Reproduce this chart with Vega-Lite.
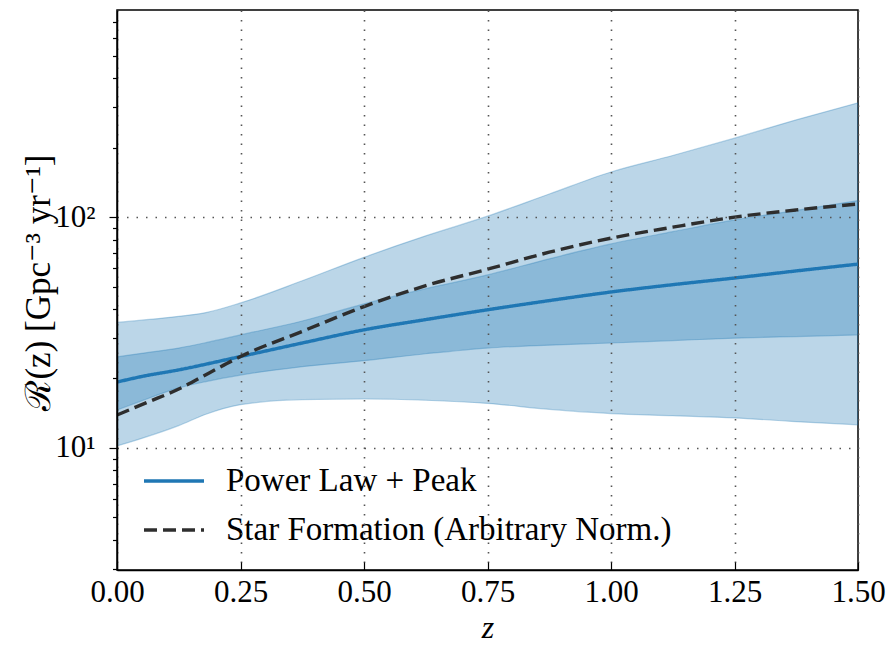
{
  "$schema": "https://vega.github.io/schema/vega-lite/v6.json",
  "width": 741,
  "height": 560,
  "autosize": "none",
  "padding": {"left": 117, "top": 10, "right": 31, "bottom": 76},
  "background": "white",
  "config": {
    "view": {"stroke": "black", "strokeWidth": 1.5},
    "font": "Liberation Serif, DejaVu Serif, serif",
    "axis": {
      "labelFont": "Liberation Serif, DejaVu Serif, serif",
      "titleFont": "Liberation Serif, DejaVu Serif, serif",
      "labelColor": "black",
      "titleColor": "black",
      "titleFontWeight": "normal",
      "domainColor": "black",
      "domainWidth": 1.5,
      "tickColor": "black",
      "tickWidth": 1.2,
      "gridColor": "#555555",
      "gridDash": [1.5, 8],
      "gridWidth": 1.6,
      "labelFlush": false,
      "labelOverlap": false
    },
    "legend": {"labelFont": "Liberation Serif, DejaVu Serif, serif"}
  },
  "datasets": {
    "bands": [
      {"z": 0.0, "lo90": 10.2, "lo50": 14.6, "hi50": 24.8, "hi90": 35.0},
      {"z": 0.05, "lo90": 11.0, "lo50": 16.0, "hi50": 25.7, "hi90": 35.8},
      {"z": 0.125, "lo90": 12.5, "lo50": 18.2, "hi50": 27.1, "hi90": 37.2},
      {"z": 0.18, "lo90": 14.0, "lo50": 19.4, "hi50": 28.6, "hi90": 38.6},
      {"z": 0.25, "lo90": 15.4, "lo50": 20.7, "hi50": 30.9, "hi90": 42.5},
      {"z": 0.375, "lo90": 16.2, "lo50": 22.5, "hi50": 35.5, "hi90": 53.0},
      {"z": 0.5, "lo90": 16.3, "lo50": 23.9, "hi50": 42.1, "hi90": 67.0},
      {"z": 0.625, "lo90": 16.1, "lo50": 25.6, "hi50": 49.0, "hi90": 83.0},
      {"z": 0.75, "lo90": 15.6, "lo50": 27.1, "hi50": 56.2, "hi90": 101.0},
      {"z": 0.875, "lo90": 14.7, "lo50": 27.9, "hi50": 66.0, "hi90": 126.0},
      {"z": 1.0, "lo90": 14.1, "lo50": 28.5, "hi50": 76.6, "hi90": 157.0},
      {"z": 1.125, "lo90": 13.8, "lo50": 29.2, "hi50": 86.5, "hi90": 185.0},
      {"z": 1.25, "lo90": 13.5, "lo50": 29.9, "hi50": 97.3, "hi90": 220.0},
      {"z": 1.375, "lo90": 13.0, "lo50": 30.4, "hi50": 107.0, "hi90": 264.0},
      {"z": 1.5, "lo90": 12.6, "lo50": 30.9, "hi50": 118.0, "hi90": 313.0}
    ],
    "lines": [
      {"z": 0.0, "series": "Power Law + Peak", "R": 19.3},
      {"z": 0.05, "series": "Power Law + Peak", "R": 20.4},
      {"z": 0.125, "series": "Power Law + Peak", "R": 21.8},
      {"z": 0.25, "series": "Power Law + Peak", "R": 24.9},
      {"z": 0.375, "series": "Power Law + Peak", "R": 28.5},
      {"z": 0.5, "series": "Power Law + Peak", "R": 32.5},
      {"z": 0.625, "series": "Power Law + Peak", "R": 36.0},
      {"z": 0.75, "series": "Power Law + Peak", "R": 39.7},
      {"z": 0.875, "series": "Power Law + Peak", "R": 43.5},
      {"z": 1.0, "series": "Power Law + Peak", "R": 47.4},
      {"z": 1.125, "series": "Power Law + Peak", "R": 51.0},
      {"z": 1.25, "series": "Power Law + Peak", "R": 54.5},
      {"z": 1.375, "series": "Power Law + Peak", "R": 58.5},
      {"z": 1.5, "series": "Power Law + Peak", "R": 62.6},
      {"z": 0.0, "series": "Star Formation (Arbitrary Norm.)", "R": 13.9},
      {"z": 0.0625, "series": "Star Formation (Arbitrary Norm.)", "R": 15.8},
      {"z": 0.125, "series": "Star Formation (Arbitrary Norm.)", "R": 18.0},
      {"z": 0.1875, "series": "Star Formation (Arbitrary Norm.)", "R": 21.2},
      {"z": 0.25, "series": "Star Formation (Arbitrary Norm.)", "R": 24.9},
      {"z": 0.375, "series": "Star Formation (Arbitrary Norm.)", "R": 32.0},
      {"z": 0.5, "series": "Star Formation (Arbitrary Norm.)", "R": 41.0},
      {"z": 0.625, "series": "Star Formation (Arbitrary Norm.)", "R": 50.5},
      {"z": 0.75, "series": "Star Formation (Arbitrary Norm.)", "R": 59.5},
      {"z": 0.875, "series": "Star Formation (Arbitrary Norm.)", "R": 70.5},
      {"z": 1.0, "series": "Star Formation (Arbitrary Norm.)", "R": 81.1},
      {"z": 1.125, "series": "Star Formation (Arbitrary Norm.)", "R": 90.5},
      {"z": 1.25, "series": "Star Formation (Arbitrary Norm.)", "R": 100.0},
      {"z": 1.375, "series": "Star Formation (Arbitrary Norm.)", "R": 107.5},
      {"z": 1.5, "series": "Star Formation (Arbitrary Norm.)", "R": 114.0}
    ]
  },
  "layer": [
    {
      "data": {"name": "bands"},
      "mark": {"type": "area", "color": "#1f77b4", "fillOpacity": 0.3, "stroke": "#1f77b4", "strokeOpacity": 0.3, "strokeWidth": 1.2, "interpolate": "monotone", "clip": true},
      "encoding": {
        "x": {
          "field": "z", "type": "quantitative",
          "scale": {"domain": [0, 1.5], "nice": false, "zero": false},
          "axis": {
            "values": [0, 0.25, 0.5, 0.75, 1.0, 1.25, 1.5],
            "format": ".2f",
            "labelFontSize": 31,
            "tickSize": -8,
            "labelPadding": 15,
            "grid": true,
            "zindex": 1,
            "title": "z",
            "titleFontSize": 32,
            "titleFontStyle": "italic",
            "titleY": 67,
            "titleX": 370.5,
            "titleBaseline": "alphabetic"
          }
        },
        "y": {
          "field": "lo90", "type": "quantitative",
          "scale": {"type": "log", "domain": [2.96, 790], "nice": false, "zero": false},
          "axis": {
            "values": [3, 4, 5, 6, 7, 8, 9, 10, 20, 30, 40, 50, 60, 70, 80, 90, 100, 200, 300, 400, 500, 600, 700],
            "labelExpr": "datum.value == 10 ? '10¹' : datum.value == 100 ? '10²' : ''",
            "labelFontSize": 31,
            "labelBaseline": "middle",
            "tickSize": {"condition": {"test": "datum.value == 10 || datum.value == 100", "value": 8}, "value": 4.5},
            "labelPadding": 14,
            "grid": true,
            "gridOpacity": {"condition": {"test": "datum.value == 10 || datum.value == 100", "value": 1}, "value": 0},
            "zindex": 1,
            "title": "ℛ(z)  [Gpc⁻³ yr⁻¹]",
            "titleFontSize": 35,
            "titleX": -79,
            "titleY": 272,
            "titleAlign": "center",
            "titleBaseline": "middle",
            "titleAngle": -90
          }
        },
        "y2": {"field": "hi90"}
      }
    },
    {
      "data": {"name": "bands"},
      "mark": {"type": "area", "color": "#1f77b4", "fillOpacity": 0.3, "stroke": "#1f77b4", "strokeOpacity": 0.3, "strokeWidth": 1.2, "interpolate": "monotone", "clip": true},
      "encoding": {
        "x": {"field": "z", "type": "quantitative"},
        "y": {"field": "lo50", "type": "quantitative"},
        "y2": {"field": "hi50"}
      }
    },
    {
      "data": {"name": "lines"},
      "mark": {"type": "line", "strokeWidth": 3.4, "interpolate": "monotone", "clip": true},
      "encoding": {
        "x": {"field": "z", "type": "quantitative"},
        "y": {"field": "R", "type": "quantitative"},
        "color": {
          "field": "series", "type": "nominal",
          "scale": {"domain": ["Power Law + Peak", "Star Formation (Arbitrary Norm.)"], "range": ["#1f77b4", "#2e2e2e"]},
          "legend": {
            "orient": "none",
            "legendX": 25,
            "legendY": 439,
            "title": null,
            "symbolType": "stroke",
            "symbolSize": 3600,
            "symbolStrokeWidth": 3.4,
            "labelFontSize": 33,
            "labelColor": "black",
            "labelOffset": 20,
            "rowPadding": -16,
            "labelLimit": 700
          }
        },
        "strokeDash": {
          "field": "series", "type": "nominal",
          "scale": {"domain": ["Power Law + Peak", "Star Formation (Arbitrary Norm.)"], "range": [[1, 0], [13, 6]]},
          "legend": {
            "orient": "none",
            "legendX": 25,
            "legendY": 439,
            "title": null,
            "symbolType": "stroke",
            "symbolSize": 3600,
            "symbolStrokeWidth": 3.4,
            "labelFontSize": 33,
            "labelColor": "black",
            "labelOffset": 20,
            "rowPadding": -16,
            "labelLimit": 700
          }
        }
      }
    }
  ]
}
